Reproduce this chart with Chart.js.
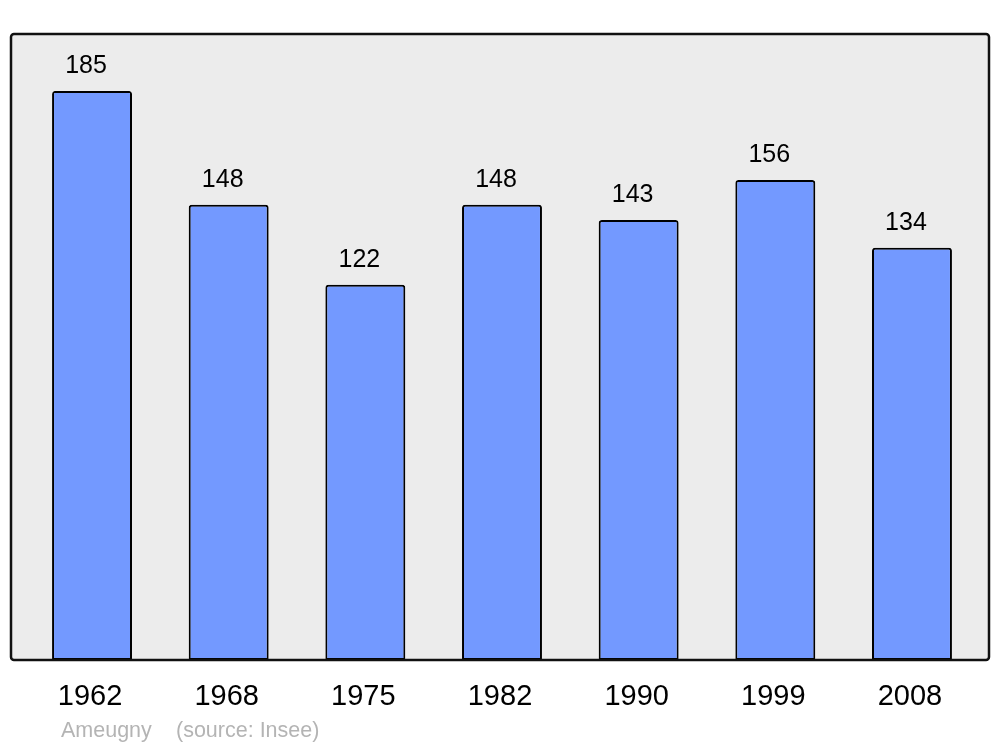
<!DOCTYPE html>
<html>
<head>
<meta charset="utf-8">
<script src="https://cdn.jsdelivr.net/npm/chart.js@4"></script>
<style>
html,body{margin:0;padding:0;background:#fff;}
#wrap{width:1000px;height:747px;position:relative;}
</style>
</head>
<body>
<div id="wrap"><canvas id="c" width="1000" height="747"></canvas></div>
<script>
const years = ['1962','1968','1975','1982','1990','1999','2008'];
const population = [185,148,122,148,143,156,134];
const sourceLabel = 'Ameugny';
const sourceNote = '(source: Insee)';

const framePlugin = {
  id:'frame',
  beforeDraw(chart){
    const ctx = chart.ctx;
    ctx.save();
    ctx.fillStyle = '#ececec';
    ctx.beginPath();
    ctx.roundRect(11, 34, 978, 626, 3);
    ctx.fill();
    ctx.restore();
  },
  afterDatasetsDraw(chart){
    const ctx = chart.ctx;
    const x = chart.scales.x, y = chart.scales.y;
    ctx.save();
    ctx.strokeStyle = '#111';
    ctx.lineWidth = 2.5;
    ctx.beginPath();
    ctx.roundRect(11, 34, 978, 626, 3);
    ctx.stroke();
    ctx.fillStyle = '#000';
    ctx.textAlign = 'center';
    ctx.textBaseline = 'alphabetic';
    ctx.font = '25px "Liberation Sans", Arial, sans-serif';
    population.forEach((v,i)=>{
      ctx.fillText(String(v), x.getPixelForValue(i) - 6, y.getPixelForValue(v) - 18);
    });
    ctx.font = '29px "Liberation Sans", Arial, sans-serif';
    ctx.textBaseline = 'middle';
    years.forEach((t,i)=>{
      ctx.fillText(t, x.getPixelForValue(i) - 2, 697);
    });
    ctx.fillStyle = '#b4b4b4';
    ctx.textAlign = 'left';
    ctx.font = '21.5px "Liberation Sans", Arial, sans-serif';
    ctx.fillText(sourceLabel, 61, 731);
    ctx.fillText(sourceNote, 176, 731);
    ctx.restore();
  }
};

new Chart(document.getElementById('c'), {
  type:'bar',
  data:{
    labels: years,
    datasets:[{
      data: population,
      backgroundColor:'#7399ff',
      borderColor:'#000',
      borderWidth:2,
      borderSkipped:false,
      borderRadius:{topLeft:3,topRight:3,bottomLeft:0,bottomRight:0},
      barPercentage:0.585,
      categoryPercentage:1
    }]
  },
  options:{
    responsive:false,
    animation:false,
    devicePixelRatio:1,
    layout:{padding:{left:23.7,right:19.7,top:34,bottom:87}},
    plugins:{legend:{display:false},tooltip:{enabled:false}},
    scales:{
      x:{display:false},
      y:{display:false,min:0,max:203.5}
    }
  },
  plugins:[framePlugin]
});
</script>
</body>
</html>
